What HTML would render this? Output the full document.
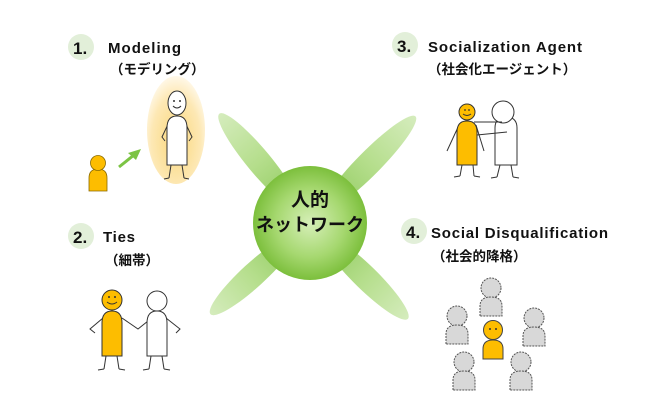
<!DOCTYPE html>
<html><head><meta charset="utf-8"><style>
html,body{margin:0;padding:0;background:#fff;}
svg{display:block;}
text{font-family:"Liberation Sans","Noto Sans CJK JP",sans-serif;font-weight:bold;fill:#111;}
</style></head><body>
<svg width="649" height="418" viewBox="0 0 649 418" xmlns="http://www.w3.org/2000/svg">
<defs>
<radialGradient id="ball" cx="0.5" cy="0.5" r="0.5">
<stop offset="0" stop-color="#d6efb8"/><stop offset="0.6" stop-color="#a6d870"/><stop offset="1" stop-color="#7cbf3c"/>
</radialGradient>
<linearGradient id="spoke" x1="0" y1="0" x2="1" y2="0">
<stop offset="0" stop-color="#8cc85a"/><stop offset="0.5" stop-color="#b5de8c"/><stop offset="1" stop-color="#d5ecbd"/>
</linearGradient>
<radialGradient id="glow" cx="0.5" cy="0.6" r="0.6">
<stop offset="0" stop-color="#fbd77a"/><stop offset="0.7" stop-color="#fde8b4"/><stop offset="1" stop-color="#fff8e8"/>
</radialGradient>
</defs>

<g transform="translate(310,223)">
<g transform="rotate(-129.7)"><ellipse cx="80" cy="0" rx="62" ry="12" fill="url(#spoke)"/></g>
<g transform="rotate(-45.3)"><ellipse cx="84" cy="0" rx="66" ry="12" fill="url(#spoke)"/></g>
<g transform="rotate(137.5)"><ellipse cx="77" cy="0" rx="58" ry="12" fill="url(#spoke)"/></g>
<g transform="rotate(44.4)"><ellipse cx="78" cy="0" rx="59" ry="12" fill="url(#spoke)"/></g>
</g>
<circle cx="310" cy="223" r="57" fill="url(#ball)"/>
<text x="310" y="206" font-size="19" text-anchor="middle">人的</text>
<text x="310" y="231" font-size="18" text-anchor="middle">ネットワーク</text>

<circle cx="81" cy="47" r="13" fill="#e2efd9"/>
<text x="73" y="54" font-size="17">1.</text>
<text x="108" y="53" font-size="15" textLength="73">Modeling</text>
<text x="110" y="74" font-size="13.5">（モデリング）</text>

<circle cx="405" cy="45" r="13" fill="#e2efd9"/>
<text x="397" y="52" font-size="17">3.</text>
<text x="428" y="52" font-size="15" textLength="154">Socialization Agent</text>
<text x="428" y="74" font-size="13.5">（社会化エージェント）</text>

<circle cx="81" cy="236" r="13" fill="#e2efd9"/>
<text x="73" y="243" font-size="17">2.</text>
<text x="103" y="242" font-size="15" textLength="32">Ties</text>
<text x="105" y="265" font-size="13.5">（細帯）</text>

<circle cx="414" cy="231" r="13" fill="#e2efd9"/>
<text x="406" y="238" font-size="17">4.</text>
<text x="431" y="238" font-size="15" textLength="177">Social Disqualification</text>
<text x="432" y="261" font-size="13.5">（社会的降格）</text>

<ellipse cx="176" cy="130" rx="29" ry="54" fill="url(#glow)"/>
<g stroke="#333" stroke-width="1" fill="#fff">
<line x1="171" y1="165" x2="169" y2="178"/><line x1="169" y1="178" x2="164" y2="179"/>
<line x1="182" y1="165" x2="184" y2="178"/><line x1="184" y1="178" x2="189" y2="179"/>
<polyline points="170,120 162,137 165,141" fill="none"/>
<polyline points="184,120 192,137 189,141" fill="none"/>
<path d="M167,165 L167,128 Q167,116 177,116 Q187,116 187,128 L187,165 Z"/>
<ellipse cx="177" cy="103" rx="9" ry="12"/>
</g>
<circle cx="174" cy="101" r="1" fill="#333"/><circle cx="180" cy="101" r="1" fill="#333"/>
<path d="M173,106 Q177,110 181,106" stroke="#333" fill="none"/>
<g fill="#fdbd00" stroke="#8a6a00" stroke-width="0.8">
<path d="M89,191 L89,178 Q89,169 98,169 Q107,169 107,178 L107,191 Z"/>
<circle cx="98" cy="163" r="7.5"/>
</g>
<line x1="119" y1="167" x2="134" y2="155" stroke="#7cc444" stroke-width="3"/>
<polygon points="141,149 128,153 136,160" fill="#7cc444"/>

<g stroke="#333" stroke-width="1" fill="#fff">
<line x1="500" y1="165" x2="497" y2="177"/><line x1="497" y1="177" x2="491" y2="178"/>
<line x1="511" y1="165" x2="513" y2="177"/><line x1="513" y1="177" x2="519" y2="178"/>
<line x1="462" y1="165" x2="460" y2="176"/><line x1="460" y1="176" x2="454" y2="177"/>
<line x1="473" y1="165" x2="474" y2="176"/><line x1="474" y1="176" x2="480" y2="177"/>
<polyline points="459,125 447,151" fill="none"/><polyline points="476,125 484,151" fill="none"/>
<path d="M495,165 L495,128 Q495,117 506,117 Q517,117 517,128 L517,165 Z"/>
<circle cx="503" cy="112" r="11"/>
<line x1="474" y1="122" x2="502" y2="122"/><line x1="477" y1="135" x2="507" y2="132"/>
</g>
<g fill="#fdbd00" stroke="#333" stroke-width="1">
<path d="M457,165 L457,132 Q457,121 467,121 Q477,121 477,132 L477,165 Z"/>
<circle cx="467" cy="112" r="8"/>
</g>
<circle cx="465" cy="110" r="0.9" fill="#333"/><circle cx="469" cy="110" r="0.9" fill="#333"/>
<path d="M463,114 Q467,117 471,114" stroke="#333" fill="none"/>

<g stroke="#333" stroke-width="1" fill="#fff">
<line x1="106" y1="356" x2="104" y2="369"/><line x1="104" y1="369" x2="98" y2="370"/>
<line x1="117" y1="356" x2="119" y2="369"/><line x1="119" y1="369" x2="125" y2="370"/>
<line x1="151" y1="356" x2="149" y2="369"/><line x1="149" y1="369" x2="143" y2="370"/>
<line x1="162" y1="356" x2="164" y2="369"/><line x1="164" y1="369" x2="170" y2="370"/>
<polyline points="103,318 90,329 95,333" fill="none"/>
<polyline points="122,318 138,329 148,321" fill="none"/>
<polyline points="166,318 180,329 176,333" fill="none"/>
<path d="M147,356 L147,323 Q147,311 157,311 Q167,311 167,323 L167,356 Z"/>
<circle cx="157" cy="301" r="10"/>
</g>
<g fill="#fdbd00" stroke="#333" stroke-width="1">
<path d="M102,356 L102,323 Q102,311 112,311 Q122,311 122,323 L122,356 Z"/>
<circle cx="112" cy="300" r="10"/>
</g>
<circle cx="109" cy="297" r="1" fill="#333"/><circle cx="115" cy="297" r="1" fill="#333"/>
<path d="M107,302 Q112,306 117,302" stroke="#333" fill="none"/>

<g fill="#d8d8d8" stroke="#555" stroke-width="1" stroke-dasharray="2,1">
<g transform="translate(491,288)"><circle cx="0" cy="0" r="10"/><path d="M-11,28 L-11,18 Q-11,9 0,9 Q11,9 11,18 L11,28 Z"/></g>
<g transform="translate(457,316)"><circle cx="0" cy="0" r="10"/><path d="M-11,28 L-11,18 Q-11,9 0,9 Q11,9 11,18 L11,28 Z"/></g>
<g transform="translate(534,318)"><circle cx="0" cy="0" r="10"/><path d="M-11,28 L-11,18 Q-11,9 0,9 Q11,9 11,18 L11,28 Z"/></g>
<g transform="translate(464,362)"><circle cx="0" cy="0" r="10"/><path d="M-11,28 L-11,18 Q-11,9 0,9 Q11,9 11,18 L11,28 Z"/></g>
<g transform="translate(521,362)"><circle cx="0" cy="0" r="10"/><path d="M-11,28 L-11,18 Q-11,9 0,9 Q11,9 11,18 L11,28 Z"/></g>
</g>
<g fill="#fdbd00" stroke="#444" stroke-width="1" transform="translate(493,330)">
<path d="M-10,29 L-10,19 Q-10,10 0,10 Q10,10 10,19 L10,29 Z"/>
<circle cx="0" cy="0" r="9.5"/>
<circle cx="-3" cy="-1" r="1" fill="#333" stroke="none"/><circle cx="3" cy="-1" r="1" fill="#333" stroke="none"/>
</g>
</svg>
</body></html>
